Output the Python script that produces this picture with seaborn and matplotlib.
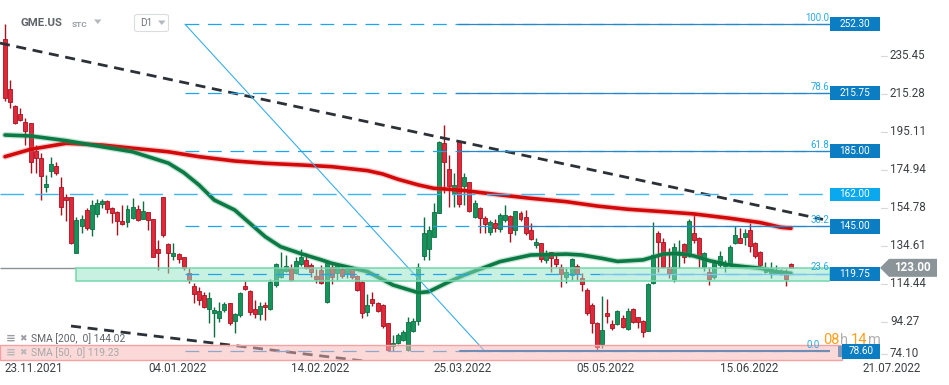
import matplotlib
matplotlib.use("Agg")
import numpy as np
import pandas as pd
import matplotlib.pyplot as plt
import matplotlib.transforms as mtransforms
from matplotlib.patches import Rectangle, Polygon, FancyBboxPatch
import seaborn as sns

# ---------------- data ----------------
opens = [244.3, 217.9, 208.9, 204.5, 200.2, 199.7, 185.2, 181.2, 165.9, 174.6,
         177.1, 166.1, 160.6, 160.6, 130.7, 145.4, 153.7, 143.6, 151.4, 156.7,
         158.6, 154.6, 152.5, 147.9, 147.5, 149.7, 154.2, 148.9, 152.5, 148.8,
         132.8, 160.4, 135.5, 129.3, 130.2, 128.6, 120.4, 113.4, 110.7, 108.6,
         101.0, 98.9, 96.2, 100.6, 104.2, 95.0, 98.0, 113.4, 110.7, 101.0,
         98.3, 103.3, 101.0, 113.7, 118.0, 121.5, 123.1, 120.4, 124.9, 127.3,
         124.5, 118.8, 121.8, 105.0, 123.6, 120.4, 122.4, 120.1, 122.2, 118.7,
         115.3, 99.7, 106.3, 104.2, 103.1, 93.6, 81.5, 83.3, 84.7, 79.4,
         89.6, 94.8, 129.4, 133.0, 139.2, 152.3, 189.1, 175.3, 162.9, 189.6,
         166.5, 168.4, 150.1, 154.6, 149.3, 142.2, 146.6, 143.6, 148.4, 150.3,
         142.9, 152.0, 149.8, 143.1, 135.1, 136.0, 127.2, 131.2, 127.5, 123.6,
         118.3, 119.2, 124.1, 117.4, 111.2, 103.3, 93.6, 82.6, 99.2, 93.2,
         93.2, 96.2, 90.4, 101.0, 96.7, 94.8, 89.6, 114.8, 141.3, 136.9,
         123.6, 117.1, 129.8, 135.7, 129.8, 141.3, 138.7, 123.6, 121.0, 118.1,
         124.5, 124.0, 125.4, 136.0, 138.7, 139.5, 143.1, 136.3, 131.6, 121.0,
         120.1, 120.4, 121.5, 121.0, 125.0]
highs = [252.3, 222.7, 209.4, 207.8, 202.7, 199.9, 188.2, 183.9, 172.3, 182.0,
         179.3, 171.4, 162.2, 160.8, 150.1, 151.0, 154.8, 159.0, 159.5, 159.5,
         159.0, 155.4, 153.3, 156.4, 156.4, 159.9, 156.4, 158.6, 152.8, 148.9,
         137.8, 160.8, 136.2, 136.2, 131.0, 128.9, 122.9, 115.1, 113.0, 110.3,
         110.0, 102.4, 105.0, 104.7, 104.5, 98.9, 110.3, 116.0, 111.2, 106.0,
         104.7, 105.0, 117.0, 125.7, 131.2, 129.8, 124.9, 128.6, 132.8, 130.9,
         125.7, 122.4, 124.3, 125.7, 125.2, 125.7, 124.9, 123.6, 123.6, 119.3,
         116.0, 109.1, 110.0, 104.7, 103.6, 93.6, 87.3, 88.3, 90.0, 96.9,
         96.4, 125.6, 150.1, 145.2, 157.6, 190.3, 198.8, 182.9, 173.2, 190.9,
         173.2, 168.7, 159.0, 155.1, 150.5, 148.4, 148.9, 152.3, 156.4, 151.0,
         153.3, 153.3, 153.7, 146.6, 138.7, 136.3, 132.5, 131.6, 129.8, 125.0,
         122.8, 128.1, 124.9, 120.1, 112.2, 104.2, 94.4, 108.1, 106.3, 95.3,
         100.8, 97.9, 101.5, 101.9, 97.1, 95.3, 115.0, 147.5, 142.7, 138.7,
         133.4, 136.0, 137.8, 136.2, 148.8, 152.3, 139.2, 131.6, 123.6, 126.2,
         132.1, 127.2, 135.0, 145.2, 144.0, 143.5, 146.6, 136.9, 132.1, 126.3,
         126.3, 124.5, 122.2, 122.2, 125.6]
lows = [211.5, 207.7, 199.6, 200.9, 188.2, 173.3, 173.3, 159.0, 163.2, 171.4,
        172.3, 151.0, 148.0, 135.6, 130.7, 141.5, 143.1, 139.9, 150.0, 154.8,
        152.3, 146.8, 140.4, 145.7, 144.8, 148.8, 148.0, 148.8, 143.1, 128.8,
        121.9, 139.4, 120.1, 127.2, 125.7, 121.9, 114.8, 104.5, 103.3, 101.5,
        93.6, 86.5, 94.4, 99.4, 92.5, 88.3, 97.1, 111.2, 97.7, 96.2,
        95.5, 95.5, 100.6, 113.0, 117.5, 121.0, 116.2, 119.9, 124.1, 122.5,
        118.3, 114.8, 114.3, 104.5, 114.5, 116.7, 117.7, 117.7, 117.2, 110.6,
        96.5, 97.6, 103.0, 99.7, 91.2, 78.6, 78.9, 82.3, 84.3, 78.7,
        89.0, 92.7, 127.2, 127.2, 139.2, 152.0, 162.6, 155.1, 155.5, 155.1,
        156.4, 152.8, 149.3, 141.7, 141.3, 140.4, 142.2, 142.2, 147.5, 136.9,
        140.4, 148.0, 140.4, 137.8, 133.4, 126.3, 125.7, 121.0, 123.6, 113.0,
        114.8, 116.5, 116.5, 110.9, 98.2, 88.3, 78.6, 80.3, 93.6, 90.2,
        92.4, 90.9, 90.0, 93.8, 90.9, 86.5, 89.3, 114.4, 121.0, 122.9,
        117.5, 115.6, 122.8, 125.7, 128.9, 136.0, 123.6, 121.5, 113.9, 116.9,
        123.6, 121.0, 124.9, 135.6, 136.0, 135.1, 131.6, 128.0, 124.1, 120.1,
        117.5, 119.7, 119.4, 113.4, 122.8]
closes = [213.0, 211.2, 199.7, 201.5, 195.6, 179.3, 181.2, 171.9, 167.5, 178.1,
          173.2, 155.5, 159.0, 136.3, 148.4, 148.9, 144.3, 156.4, 157.6, 158.5,
          154.1, 151.9, 147.9, 146.3, 154.2, 155.5, 148.4, 153.2, 148.4, 128.9,
          130.7, 140.4, 130.7, 131.0, 127.5, 122.8, 116.5, 109.0, 105.9, 102.1,
          106.8, 100.6, 100.1, 103.8, 93.6, 98.3, 109.5, 112.0, 99.6, 98.5,
          102.7, 102.1, 115.6, 124.9, 122.2, 124.1, 116.7, 126.6, 128.6, 123.1,
          121.0, 117.1, 114.8, 125.4, 118.3, 124.9, 118.8, 122.8, 118.0, 111.2,
          99.2, 103.3, 104.5, 100.3, 92.1, 79.2, 83.3, 87.3, 88.8, 94.2,
          94.8, 123.6, 141.3, 143.1, 152.5, 190.0, 179.3, 166.6, 166.8, 156.7,
          171.1, 153.2, 157.6, 149.3, 146.1, 147.2, 144.3, 151.0, 151.0, 141.3,
          153.2, 148.8, 141.3, 138.1, 136.7, 127.5, 131.0, 128.1, 125.0, 119.7,
          121.0, 127.5, 119.7, 114.3, 98.9, 93.6, 81.1, 90.0, 97.4, 90.9,
          100.1, 91.8, 100.1, 94.4, 94.4, 89.1, 114.4, 129.8, 136.9, 123.6,
          120.1, 134.2, 131.6, 128.6, 148.0, 137.8, 128.6, 130.7, 116.9, 125.6,
          129.3, 125.7, 134.2, 140.4, 136.3, 141.3, 134.6, 129.3, 124.5, 122.8,
          122.2, 121.8, 120.4, 116.9, 123.0]

sma200_idx = [0, 5, 12, 19, 25, 32, 38, 45, 51, 58, 64, 71, 74, 77, 81, 84, 87, 90,
              97, 103, 110, 116, 122, 129, 135, 142, 148, 152, 154]
sma200_val = [182.0, 185.9, 189.1, 188.2, 186.5, 184.6, 182.0, 179.7, 178.5, 177.6,
              176.7, 174.6, 172.8, 170.0, 167.0, 165.2, 164.7, 164.0, 161.7, 159.9,
              158.1, 155.8, 154.1, 152.8, 151.6, 149.3, 147.0, 144.5, 144.0]
sma50_idx = [0, 5, 12, 19, 25, 32, 35, 38, 41, 45, 48, 51, 54, 58, 62, 64, 71, 76,
             81, 83, 87, 90, 97, 103, 110, 113, 117, 120, 125, 129, 132, 135, 138,
             142, 145, 148, 151, 154]
sma50_val = [193.5, 193.0, 190.5, 187.3, 184.6, 178.6, 173.6, 167.0, 159.0, 153.7,
             146.6, 139.5, 134.2, 130.5, 127.2, 125.4, 121.0, 113.9, 109.8, 110.3,
             115.6, 119.2, 126.3, 129.8, 130.3, 129.8, 128.0, 126.4, 127.2, 130.3,
             130.7, 129.3, 126.8, 124.5, 123.6, 122.8, 121.0, 120.1]

date_tick_idx = [0, 28, 56, 84, 112, 140, 168]
date_labels = ["23.11.2021", "04.01.2022", "14.02.2022", "25.03.2022",
               "05.05.2022", "15.06.2022", "21.07.2022"]
price_ticks = [235.45, 215.28, 195.11, 174.94, 154.78, 134.61, 114.44, 94.27, 74.10]
price_tick_labels = ["235.45", "215.28", "195.11", "174.94", "154.78", "134.61",
                     "114.44", "94.27", "74.10"]
fib_levels = [252.30, 215.75, 185.00, 145.00, 119.75, 78.60]
fib_labels = ["100.0", "78.6", "61.8", "38.2", "23.6", "0.0"]
fib_box_labels = ["252.30", "215.75", "185.00", "145.00", "119.75", "78.60"]
extra_level = 162.00
last_price = 123.00
support_zone = [116.2, 122.8]
bottom_zone = [74.1, 82.0]
trend_upper = [242.3, 148.7]
trend_lower = [92.1, 72.5]
fib_anchor = [252.3, 78.6]
sma200_last = 144.02
sma50_last = 119.23

# ---------------- style ----------------
sns.set_theme(style="white")
plt.rcParams['font.family'] = ['Roboto', 'DejaVu Sans']

W, H = 949, 385
fig = plt.figure(figsize=(W / 100, H / 100), dpi=100)
fig.patch.set_facecolor('white')
PLOT_R, PLOT_B = 830, 360
ax = fig.add_axes([0, 1 - PLOT_B / H, PLOT_R / W, PLOT_B / H])
ax.set_facecolor('white')
for s in ax.spines.values():
    s.set_visible(False)

BAR_X0, BAR_DX = 5.0, 5.104


def px2idx(px):
    return (px - BAR_X0) / BAR_DX


ax.set_xlim(px2idx(0), px2idx(PLOT_R))
ax.set_ylim(74.07, 265.17)
bt = mtransforms.blended_transform_factory(ax.transAxes, ax.transData)
PX = 1.0 / PLOT_R  # one pixel in axes-x fraction
DPP = (265.17 - 74.07) / PLOT_B  # data units per pixel (y)

df = pd.DataFrame({"o": opens, "h": highs, "l": lows, "c": closes})
df["i"] = np.arange(len(df))
df["up"] = df["c"] >= df["o"]
df["lo"] = df[["o", "c"]].min(axis=1)
df["bh"] = (df["c"] - df["o"]).abs().clip(lower=0.55)

GREEN, GREEN_E = '#14945a', '#0c6e41'
RED, RED_E = '#e1283a', '#a8121f'
for up, fc, ec in [(True, GREEN, GREEN_E), (False, RED, RED_E)]:
    d = df[df["up"] == up]
    ax.vlines(d["i"], np.minimum(d["l"], d["lo"]), np.maximum(d["h"], d["lo"] + d["bh"]),
              color=ec, lw=1.0, zorder=3)
    ax.bar(d["i"], d["bh"], bottom=d["lo"], width=0.78, color=fc, edgecolor=ec,
           linewidth=0.6, zorder=4)

# SMA lines (with soft halo)
s200 = pd.DataFrame({"i": sma200_idx, "v": sma200_val})
s50 = pd.DataFrame({"i": sma50_idx, "v": sma50_val})
sns.lineplot(data=s200, x="i", y="v", ax=ax, color='#e8555a', lw=4.4, alpha=0.3,
             legend=False, zorder=5)
sns.lineplot(data=s200, x="i", y="v", ax=ax, color='#d40a0a', lw=2.6, legend=False, zorder=5)
sns.lineplot(data=s50, x="i", y="v", ax=ax, color='#3aa56f', lw=4.4, alpha=0.3,
             legend=False, zorder=5)
sns.lineplot(data=s50, x="i", y="v", ax=ax, color='#0b7a44', lw=2.6, legend=False, zorder=5)
ax.set_xlabel("")
ax.set_ylabel("")
ax.set_xticks([])
ax.set_yticks([])

# trend lines
ax.plot([px2idx(0), px2idx(823)], trend_upper, color='#2b3136', lw=2.0,
        ls=(0, (3.6, 2.4)), zorder=6)
ax.plot([px2idx(71), px2idx(380)], trend_lower, color='#2b3136', lw=2.0,
        ls=(0, (3.6, 2.4)), zorder=6)
ax.plot([px2idx(185), px2idx(485)], fib_anchor, color='#3aaeea', lw=0.8, zorder=6)

# zones
ax.add_patch(Rectangle((px2idx(76), support_zone[0]), px2idx(PLOT_R) - px2idx(76),
                       support_zone[1] - support_zone[0], facecolor='#93e4c4',
                       alpha=0.5, edgecolor='none', zorder=7))
ax.add_patch(Rectangle((px2idx(76), support_zone[0]), px2idx(PLOT_R) - px2idx(76),
                       support_zone[1] - support_zone[0], facecolor='none',
                       edgecolor='#74d6ae', lw=1.1, zorder=7))
ax.add_patch(Rectangle((0, bottom_zone[0]), 842 * PX, bottom_zone[1] - bottom_zone[0],
                       transform=bt, facecolor='#f9b5b5', alpha=0.5, edgecolor='none',
                       zorder=7, clip_on=False))
ax.add_patch(Rectangle((0, bottom_zone[0]), 842 * PX, bottom_zone[1] - bottom_zone[0],
                       transform=bt, facecolor='none', edgecolor='#f2a2a2', lw=1.0,
                       zorder=7, clip_on=False))
ax.hlines(last_price, px2idx(0), px2idx(76), color='#8a9397', lw=1.0, zorder=6)

# fib levels
fib_solid_from = [458, 456, 458, 497, 600, 460]
fib_label_right = [829, 829, 829, 829, 829, 820]
for lv, lab, sf, lr in zip(fib_levels, fib_labels, fib_solid_from, fib_label_right):
    dash_col = '#8ea8cc' if lv == fib_levels[-1] else '#1ea5ef'
    ax.plot([185 * PX, 1.0], [lv, lv], transform=bt, color=dash_col, lw=0.9,
            ls=(0, (11, 7)), zorder=8)
    solid_col = '#6f8db5' if lv == fib_levels[-1] else ('#7cc6ee' if lv == fib_levels[4] else '#2b86c8')
    ax.plot([sf * PX, 1.0], [lv, lv], transform=bt, color=solid_col,
            lw=1.5 if lv == fib_levels[-1] else 0.9, zorder=8)
    ax.text(lr * PX, lv + 1.5 * DPP, lab, transform=bt, ha='right', va='bottom',
            color='#29a9e6', fontsize=6.9, zorder=9, clip_on=False)
ax.plot([0, 1.0], [extra_level, extra_level], transform=bt, color='#3ab4f2', lw=1.0,
        ls=(0, (17, 8)), zorder=8)

# right side value boxes
box_h = 14.5 * DPP
for lv, lab in zip(fib_levels, fib_box_labels):
    x0 = 842 * PX if lv == fib_levels[-1] else 1.0
    ax.add_patch(Rectangle((x0, lv - box_h / 2), 880 * PX - x0, box_h, transform=bt,
                           facecolor='#0b7dc2', edgecolor='none', clip_on=False, zorder=10))
    ax.text((x0 + 880 * PX) / 2, lv, lab, transform=bt, ha='center', va='center',
            color='white', fontsize=7.2, clip_on=False, zorder=11)
ax.add_patch(Rectangle((838 * PX, fib_levels[-1] - 5.5 * DPP), 4 * PX, 11 * DPP, transform=bt,
                       facecolor='#7f97b8', edgecolor='none', clip_on=False, zorder=11))
ax.add_patch(Rectangle((1.0, extra_level - 6.8 * DPP), 50 * PX, 13.6 * DPP, transform=bt,
                       facecolor='#09a8ef', edgecolor='none', clip_on=False, zorder=10))
ax.text(855 * PX, extra_level, "162.00", transform=bt, ha='center', va='center',
        color='white', fontsize=7.2, clip_on=False, zorder=11)

# last price tag
tag = Polygon([(880 * PX, last_price), (889 * PX, last_price + 9 * DPP),
               (937 * PX, last_price + 9 * DPP), (937 * PX, last_price - 9 * DPP),
               (889 * PX, last_price - 9 * DPP)], closed=True, transform=bt,
              facecolor='#8b9498', edgecolor='none', clip_on=False, zorder=12)
ax.add_patch(tag)
ax.text(912 * PX, last_price, f"{last_price:.2f}", transform=bt, ha='center', va='center',
        color='white', fontsize=8.4, fontweight='bold', clip_on=False, zorder=13)

# right axis labels
for t, lab in zip(price_ticks, price_tick_labels):
    yy = t if t > 80 else t + 6 * DPP
    ax.plot([881 * PX, 887 * PX], [yy, yy], transform=bt, color='#d8d8d8', lw=0.8,
            clip_on=False, zorder=9)
    ax.text(890 * PX, yy, lab, transform=bt, ha='left', va='center', color='#3c4043',
            fontsize=8.4, clip_on=False)

# date labels
dt = mtransforms.blended_transform_factory(ax.transData, fig.transFigure)
for i, lab in zip(date_tick_idx, date_labels):
    ax.text(i, 1 - 368.5 / H, lab, transform=dt, ha='left', va='center', color='#3c4043',
            fontsize=8.4, clip_on=False)


def ftxt(px, py, s, **kw):
    fig.text(px / W, 1 - py / H, s, **kw)


# header
ftxt(20.5, 23.5, "GME.US", fontsize=8.2, fontweight='bold', color='#5f6368',
     ha='left', va='center')
ftxt(72, 24.3, "STC", fontsize=6.0, fontweight='bold', color='#9aa0a6', ha='left', va='center')
fig.add_artist(Polygon([(94 / W, 1 - 19.5 / H), (101.5 / W, 1 - 19.5 / H), (97.75 / W, 1 - 24 / H)],
                       closed=True, transform=fig.transFigure, facecolor='#b5b9bd',
                       edgecolor='none'))
fig.add_artist(FancyBboxPatch((134.5 / W, 1 - 31.5 / H), 34 / W, 17 / H,
                              boxstyle="round,pad=0,rounding_size=0.004",
                              transform=fig.transFigure, facecolor='white',
                              edgecolor='#dadce0', lw=0.8))
ftxt(140, 23.5, "D1", fontsize=7.2, color='#70757a', ha='left', va='center')
fig.add_artist(Polygon([(158 / W, 1 - 20.5 / H), (165.5 / W, 1 - 20.5 / H), (161.75 / W, 1 - 25 / H)],
                       closed=True, transform=fig.transFigure, facecolor='#b5b9bd',
                       edgecolor='none'))

# indicator legend
ftxt(5.5, 338.5, "≡", fontsize=8.5, color='#9a9ea3', ha='left', va='center', fontweight='bold')
ftxt(19.5, 338.5, "✖", fontsize=6.5, color='#9a9ea3', ha='left', va='center')
ftxt(31.5, 338.5, f"SMA [200,  0] {sma200_last:.2f}", fontsize=7.4, color='#5f6368',
     ha='left', va='center')
ftxt(5.5, 352.5, "≡", fontsize=8.5, color='#b7b7b7', ha='left', va='center', fontweight='bold')
ftxt(19.5, 352.5, "✖", fontsize=6.5, color='#b7b7b7', ha='left', va='center')
ftxt(31.5, 352.5, f"SMA [50,  0] {sma50_last:.2f}", fontsize=7.4, color='#a8a8a8',
     ha='left', va='center')

# countdown
ftxt(823, 340, "08", fontsize=10.5, color='#ff9f1a', ha='left', va='center')
ftxt(840, 340, "h", fontsize=10.5, color='#b0b0b0', ha='left', va='center')
ftxt(851, 340, "14", fontsize=10.5, color='#ff9f1a', ha='left', va='center')
ftxt(868, 340, "m", fontsize=10.5, color='#b0b0b0', ha='left', va='center')

fig.savefig("out.png", dpi=100, facecolor='white')
